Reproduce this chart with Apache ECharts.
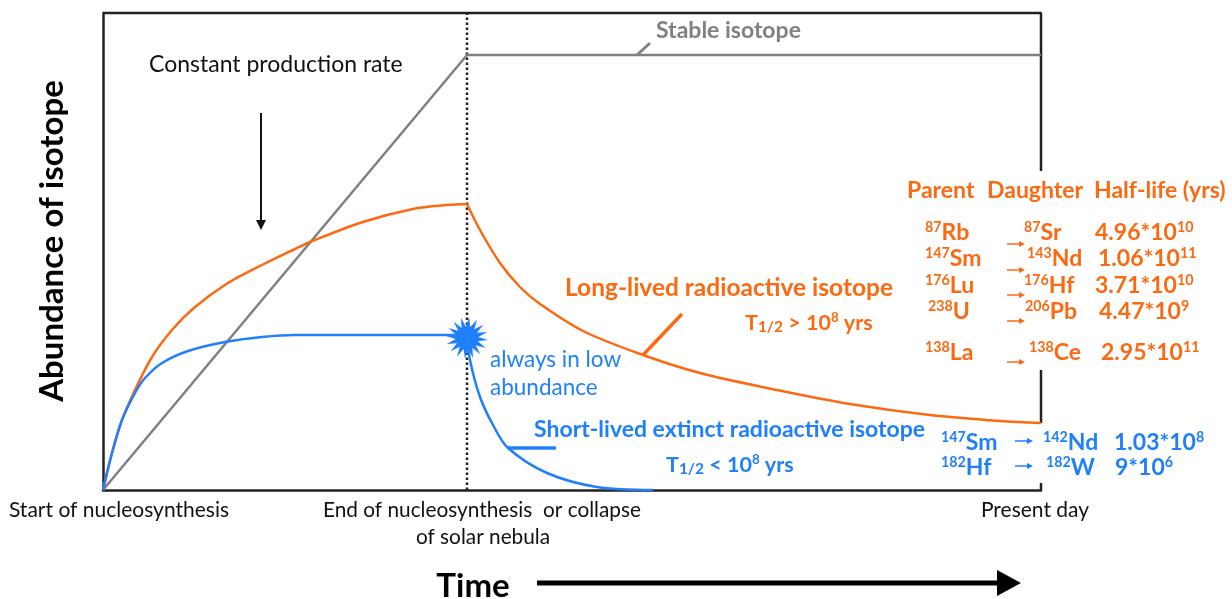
<!DOCTYPE html>
<html>
<head>
<meta charset="utf-8">
<title>Abundance of isotope</title>
<style>
  html, body { margin: 0; padding: 0; background: #fff; }
  #main { width: 1232px; height: 599px; }
</style>
<script src="https://cdn.jsdelivr.net/npm/echarts@6/dist/echarts.min.js"></script>
</head>
<body>
<div id="main"></div>
<script>
// curves (x: time, y: abundance, both arbitrary units)
const stableIsotope = [[0, 0], [364, 435], [938, 435]];
const longRise = [[0, 0], [9, 37], [19, 70], [32, 100], [49, 133], [69, 160], [92, 183], [125, 207], [159, 225], [192, 241], [207, 248], [260, 268], [310, 281], [344, 285], [364, 286]];
const longDecay = [[364, 286], [377, 260], [397, 227], [417, 203], [437, 186], [480, 159], [540, 135], [597, 117], [674, 100], [747, 86], [827, 75], [897, 69], [938, 67]];
const shortRise = [[0, 0], [9, 37], [19, 70], [32, 97], [42, 112], [59, 127], [85, 139], [122, 148], [159, 153], [192, 155], [364, 155]];
const shortDecay = [[364, 155], [367, 130], [377, 93], [390, 65], [405, 42], [444, 17], [494, 3], [550, 0]];
const endOfNucleosynthesis = [[364, 0], [364, 477]];
// the frame is open on the right side where the isotope table sits
const frameTopRight = [[0, 477], [938, 477], [938, 319]];
const frameMidRight = [[938, 120], [938, 67]];
const frameLowRight = [[938, 7], [938, 0]];
const starAt = [[364, 152]];

// text
const yTitle = 'Abundance of isotope';
const xTitle = 'Time';
const startLabel = 'Start of nucleosynthesis';
const endLabel1 = 'End of nucleosynthesis  or collapse';
const endLabel2 = 'of solar nebula';
const presentLabel = 'Present day';
const tableHead = ['Parent', 'Daughter', 'Half-life (yrs)'];
const longParents = ['{s|87}Rb', '{s|147}Sm', '{s|176}Lu', '{s|238}U', '{s|138}La'];
const longDaughters = ['{s|87}Sr', '{s|143}Nd', '{s|176}Hf', '{s|206}Pb', '{s|138}Ce'];
const longHalfLives = ['4.96*10{s|10}', '1.06*10{s|11}', '3.71*10{s|10}', '4.47*10{s|9}', '2.95*10{s|11}'];
const shortParents = ['{s|147}Sm', '{s|182}Hf'];
const shortDaughters = ['{s|142}Nd', '{s|182}W'];
const shortHalfLives = ['1.03*10{s|8}', '9*10{s|6}'];

const orange = '#fb6a12';
const blue = '#2080fb';
const gray = '#808080';
const fontName = 'Lato';

// 16 spikes burst for the collapse marker
function starPath() {
  let d = '';
  for (let i = 0; i < 32; i++) {
    let r = i % 2 == 0 ? 50 : 27;
    let a = (i / 32) * Math.PI * 2 + 0.1;
    d += (i == 0 ? 'M' : 'L') + (50 + r * Math.cos(a)).toFixed(1) + ' ' + (50 + r * Math.sin(a)).toFixed(1);
  }
  return 'path://' + d + 'Z';
}

function txt(x, y, text, size, color, bold, align) {
  return {
    type: 'text', x: x, y: y, z: 10,
    style: {
      text: text,
      fontFamily: fontName,
      fontSize: size,
      fontWeight: bold ? 'bold' : 'normal',
      fill: color,
      align: align || 'left',
      verticalAlign: 'middle',
      rich: {
        s: { fontFamily: fontName, fontSize: size * 0.62, fontWeight: bold ? 'bold' : 'normal', fill: color, verticalAlign: 'top', lineHeight: size * 1.1 },
        b: { fontFamily: fontName, fontSize: size * 0.72, fontWeight: bold ? 'bold' : 'normal', fill: color, verticalAlign: 'bottom', lineHeight: size * 1.1 }
      }
    }
  };
}

function seg(x1, y1, x2, y2, width, color) {
  return { type: 'line', z: 9, shape: { x1: x1, y1: y1, x2: x2, y2: y2 }, style: { stroke: color, lineWidth: width } };
}

function arrowRight(x1, x2, y, width, len, half, color) {
  return [
    seg(x1, y, x2 - len, y, width, color),
    { type: 'polygon', z: 9, shape: { points: [[x2 - len, y - half], [x2, y], [x2 - len, y + half]] }, style: { fill: color } }
  ];
}

function curve(name, data, color, width, smooth) {
  return {
    name: name, type: 'line', data: data, smooth: smooth, showSymbol: false, clip: false,
    lineStyle: { color: color, width: width }, silent: true, z: 3
  };
}

// table rows
const graphics = [];
tableHead.forEach(function (t, i) {
  graphics.push(txt([907, 987, 1094][i], 191, t, 23, orange, true));
});
const rowY = [233, 259, 286, 312, 353];
const parentX = [925, 925, 925, 928, 925];
const daughterX = [1024, 1027, 1024, 1025, 1029];
const halfX = [1095, 1098, 1095, 1099, 1101];
const arrowY = [244, 270, 295, 321, 362];
rowY.forEach(function (y, i) {
  graphics.push(txt(parentX[i], y, longParents[i], 23, orange, true));
  graphics.push(txt(daughterX[i], y, longDaughters[i], 23, orange, true));
  graphics.push(txt(halfX[i], y, longHalfLives[i], 23, orange, true));
  arrowRight(1007, 1025, arrowY[i], 1.5, 6, 3, orange).forEach(function (g) { graphics.push(g); });
});
[443, 468].forEach(function (y, i) {
  graphics.push(txt(941, y, shortParents[i], 23, blue, true));
  graphics.push(txt([1043, 1046][i], y, shortDaughters[i], 23, blue, true));
  graphics.push(txt([1114, 1115][i], y, shortHalfLives[i], 23, blue, true));
  arrowRight(1015, 1033, y - 2, 1.5, 6, 3, blue).forEach(function (g) { graphics.push(g); });
});

// annotations
graphics.push(
  txt(149, 65, 'Constant production rate', 23, '#111'),
  txt(656, 31, 'Stable isotope', 23, gray, true),
  txt(565, 288, 'Long-lived radioactive isotope', 24.5, orange, true),
  txt(745, 323, 'T{b|1/2} > 10{s|8} yrs', 21.5, orange, true),
  txt(490, 360, 'always in low', 22.5, blue),
  txt(490, 388, 'abundance', 22.5, blue),
  txt(534, 430, 'Short-lived extinct radioactive isotope', 23, blue, true),
  txt(666, 465, 'T{b|1/2} < 10{s|8} yrs', 21.5, blue, true),
  txt(119, 510, startLabel, 21, '#111', false, 'center'),
  txt(482, 510, endLabel1, 20.8, '#111', false, 'center'),
  txt(483, 537, endLabel2, 20.8, '#111', false, 'center'),
  txt(1035, 510, presentLabel, 21, '#111', false, 'center'),
  txt(473, 586, xTitle, 33, '#000', true, 'center'),
  seg(637, 55, 650, 43, 3, gray),
  seg(643, 355, 682, 314, 3.5, orange),
  seg(508, 448, 556, 448, 3.5, blue),
  seg(261, 113, 261, 222, 2, '#111'),
  { type: 'polygon', z: 9, shape: { points: [[256, 220], [261, 230], [266, 220]] }, style: { fill: '#111' } }
);
arrowRight(537, 1021, 583, 5, 24, 13, '#000').forEach(function (g) { graphics.push(g); });
graphics.push(Object.assign(txt(0, 0, yTitle, 33, '#000', true, 'center'), { x: 52, y: 241, rotation: Math.PI / 2 }));

const myChart = echarts.init(document.getElementById('main'));
const option = {
  animation: false,
  backgroundColor: '#fff',
  grid: { left: 103, top: 13, width: 938, height: 477 },
  xAxis: {
    type: 'value', min: 0, max: 938,
    axisLine: { show: true, onZero: false, lineStyle: { color: '#222', width: 2.5 } },
    axisTick: { show: false }, axisLabel: { show: false }, splitLine: { show: false }
  },
  yAxis: {
    type: 'value', min: 0, max: 477,
    axisLine: { show: true, onZero: false, lineStyle: { color: '#222', width: 2.5 } },
    axisTick: { show: false }, axisLabel: { show: false }, splitLine: { show: false }
  },
  series: [
    curve('frame top', frameTopRight, '#222', 2.5, false),
    curve('frame mid', frameMidRight, '#222', 2.5, false),
    curve('frame low', frameLowRight, '#222', 2.5, false),
    {
      name: 'end of nucleosynthesis', type: 'line', data: endOfNucleosynthesis, showSymbol: false, clip: false, silent: true, z: 2,
      lineStyle: { color: '#222', width: 2.5, type: [2.5, 2.5] }
    },
    curve('Stable isotope', stableIsotope, gray, 2.5, false),
    curve('Long-lived rise', longRise, orange, 2.5, 0.33),
    curve('Long-lived decay', longDecay, orange, 2.5, 0.33),
    curve('Short-lived rise', shortRise, blue, 2.5, 0.33),
    curve('Short-lived decay', shortDecay, blue, 2.5, 0.33),
    {
      name: 'collapse', type: 'scatter', data: starAt, symbol: starPath(), symbolSize: 42, silent: true, z: 5,
      itemStyle: { color: blue, opacity: 1 }
    }
  ],
  graphic: graphics
};
myChart.setOption(option);
</script>
</body>
</html>
